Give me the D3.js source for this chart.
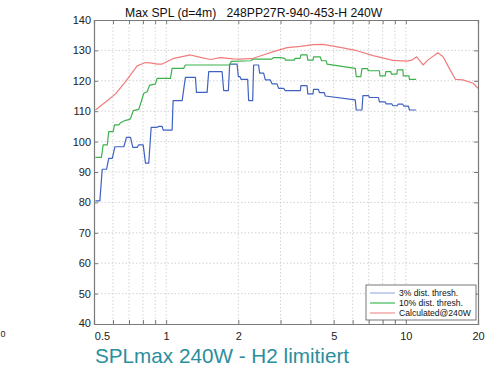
<!DOCTYPE html>
<html>
<head>
<meta charset="utf-8">
<script src="https://cdn.jsdelivr.net/npm/d3@7"></script>
<style>
  html, body { margin: 0; padding: 0; background: #fff; }
  svg { display: block; font-family: "Liberation Sans", Arial, Helvetica, sans-serif; }
</style>
</head>
<body>
<svg id="chart" width="504" height="369"></svg>
<script>
// ---- data (frequency in kHz, SPL in dB) ----
const xMajorTicks = [0.5, 1, 2, 5, 10, 20];
const xMinorTicks = [0.6, 0.7, 0.8, 0.9, 3, 4, 6, 7, 8, 9];
const yTicks = [40, 50, 60, 70, 80, 90, 100, 110, 120, 130, 140];

const blueFreq = [0.507,0.529,0.541,0.564,0.576,0.596,0.611,0.666,0.683,0.710,0.726,0.757,0.767,0.802,0.820,0.846,0.866,0.917,0.932,0.962,0.972,1.059,1.069,1.166,1.203,1.325,1.338,1.482,1.505,1.711,1.738,1.818,1.841,1.976,2.001,2.03,2.053,2.188,2.209,2.296,2.317,2.431,2.455,2.551,2.593,2.720,2.765,2.901,2.946,3.09,3.14,3.63,3.65,3.87,3.90,4.10,4.12,4.32,4.36,4.57,4.61,6.15,6.21,6.56,6.62,6.99,7.05,7.69,7.76,8.20,8.28,8.74,8.83,9.20,9.28,9.70,9.80,10.25,10.35,11.04];
const blueSPL  = [80.5,80.5,90.9,90.9,94.5,94.5,98.3,98.3,101.4,101.4,98.1,98.1,98.9,98.9,92.9,92.9,104.7,104.7,105.0,105.0,103.8,103.8,113.5,113.5,121.1,121.1,116.2,116.2,123.0,123.0,116.8,116.8,125.5,125.5,121.4,121.4,120.5,120.5,113.5,113.5,125.2,125.2,122.5,122.5,120.3,120.3,119.0,119.0,117.5,117.5,116.8,116.8,118.4,118.4,115.7,115.7,117.2,117.2,116.1,116.1,115.0,113.7,110.4,110.4,115.1,115.1,114.5,114.5,113.1,113.1,112.4,112.4,111.8,111.8,112.3,112.3,111.7,111.7,110.4,110.4];

const greenFreq = [0.507,0.537,0.546,0.568,0.576,0.601,0.609,0.635,0.645,0.677,0.70,0.71,0.729,0.769,0.807,0.833,0.854,0.902,0.917,1.042,1.059,1.184,1.203,1.84,1.87,2.25,2.30,2.75,2.80,3.00,3.12,3.15,3.42,3.45,3.62,3.65,3.87,3.90,4.10,4.12,4.39,4.45,4.65,4.69,6.15,6.21,6.49,6.56,6.93,6.97,7.76,7.80,8.20,8.25,8.66,8.70,9.17,9.22,9.72,9.76,10.30,10.35,11.04];
const greenSPL  = [94.8,94.8,98.9,98.9,103.3,103.3,105.5,105.5,106.2,107.0,107.2,107.6,110.2,110.6,115.9,116.4,118.6,118.9,120.8,120.8,124.1,124.1,125.2,125.2,126.4,126.6,127.1,127.1,127.6,127.6,127.4,126.8,126.8,127.4,127.4,128.5,128.5,126.8,126.8,127.9,127.9,126.6,126.6,125.5,124.1,121.4,121.4,124.0,124.0,123.3,123.3,121.6,121.6,123.0,123.0,122.2,122.2,123.6,123.6,121.6,121.6,120.5,120.5];

const redFreq = [0.507,0.559,0.615,0.677,0.757,0.820,0.86,0.917,0.962,1.076,1.263,1.39,1.53,1.683,1.906,2.04,2.31,2.54,2.80,3.20,3.63,4.11,4.52,4.84,5.32,6.25,7.30,8.84,10.08,10.58,11.10,11.80,12.35,13.60,14.30,15.30,16.10,17.30,19.10,20.0];
const redSPL  = [110.4,113.0,115.7,119.7,124.9,126.0,125.9,125.5,125.5,127.4,128.5,127.7,127.0,127.6,127.2,127.1,127.4,128.5,129.6,130.9,131.3,131.9,132.0,131.6,131.0,129.9,128.3,126.7,126.5,126.8,127.9,125.2,126.8,129.2,127.9,123.6,120.5,120.3,119.2,117.5];

const seriesNames = ["3% dist. thresh.", "10% dist. thresh.", "Calculated@240W"];
const titleLeft = "Max SPL (d=4m)";
const titleRight = "248PP27R-940-453-H 240W";
const caption = "SPLmax 240W - H2 limitiert";

// ---- layout ----
const svg = d3.select("#chart");
const L = 94, R = 478, T = 20, B = 324;
const x = d3.scaleLog().domain([0.5, 20]).range([L, R]);
const y = d3.scaleLinear().domain([40, 140]).range([B, T]);

const axisColor = "#7a7a7a";
const gridColor = "#c8c8c8";
const allX = xMajorTicks.concat(xMinorTicks).sort((a,b)=>a-b);

// grid
const grid = svg.append("g");
grid.selectAll("line.vx").data(allX.filter(d => d > 0.5 && d < 20)).join("line")
  .attr("x1", d => x(d)).attr("x2", d => x(d)).attr("y1", T).attr("y2", B)
  .attr("stroke", gridColor).attr("stroke-width", 0.8).attr("stroke-dasharray", "1.5,2");
grid.selectAll("line.hy").data(yTicks.filter(d => d > 40 && d < 140)).join("line")
  .attr("x1", L).attr("x2", R).attr("y1", d => y(d)).attr("y2", d => y(d))
  .attr("stroke", gridColor).attr("stroke-width", 0.8).attr("stroke-dasharray", "1.5,2");

// lines
const line = d3.line().x(d => x(d[0])).y(d => y(d[1]));
const series = [
  {f: blueFreq, v: blueSPL, color: "#3f62c2", legend: "#a9b8e6"},
  {f: greenFreq, v: greenSPL, color: "#3bb24c", legend: "#4cc062"},
  {f: redFreq, v: redSPL, color: "#f27c7c", legend: "#f49a9a"}
];
svg.append("g").selectAll("path").data(series).join("path")
  .attr("d", s => line(s.f.map((f, i) => [f, s.v[i]])))
  .attr("fill", "none").attr("stroke", s => s.color).attr("stroke-width", 1.2)
  .attr("stroke-linejoin", "round");

// axes
const fmtX = d => xMajorTicks.includes(d) ? String(d) : "";
const gB = svg.append("g").attr("transform", `translate(0,${B})`)
  .call(d3.axisBottom(x).tickValues(allX).tickFormat(fmtX).tickSize(-4).tickPadding(8));
const gT = svg.append("g").attr("transform", `translate(0,${T})`)
  .call(d3.axisTop(x).tickValues(allX).tickFormat("").tickSize(-4));
const gL = svg.append("g").attr("transform", `translate(${L},0)`)
  .call(d3.axisLeft(y).tickValues(yTicks).tickSize(-4).tickPadding(3));
const gR = svg.append("g").attr("transform", `translate(${R},0)`)
  .call(d3.axisRight(y).tickValues(yTicks).tickFormat("").tickSize(-4));
[gB, gT, gL, gR].forEach(g => {
  g.select(".domain").attr("stroke", axisColor).attr("stroke-width", 1.2);
  g.selectAll(".tick line").attr("stroke", axisColor).attr("stroke-width", 1);
  g.selectAll(".tick text").attr("fill", "#222").attr("font-size", 11)
    .attr("font-family", "Liberation Sans, Arial, sans-serif");
});
gB.selectAll(".tick text").attr("dy", "0.71em");
gB.selectAll(".tick").filter(d => d === 0.5).select("text").attr("dx", 8);
gL.selectAll(".tick").filter(d => d === 40).select("text").attr("dy", "0.2em");

// title
svg.append("text").attr("x", 125).attr("y", 17).attr("font-size", 12.2).attr("fill", "#111").text(titleLeft);
svg.append("text").attr("x", 226.5).attr("y", 17).attr("font-size", 12.2).attr("fill", "#111").text(titleRight);

// legend
const lg = svg.append("g");
lg.append("rect").attr("x", 366).attr("y", 285).attr("width", 110).attr("height", 35)
  .attr("fill", "#fff").attr("stroke", "#555").attr("stroke-width", 0.8);
const items = lg.selectAll("g.item").data(series).join("g")
  .attr("transform", (d, i) => `translate(0,${293 + i * 10})`);
items.append("line").attr("x1", 370).attr("x2", 395).attr("y1", 0).attr("y2", 0)
  .attr("stroke", d => d.legend).attr("stroke-width", 1.3);
items.append("text").attr("x", 399).attr("y", 3).attr("font-size", 8.6).attr("fill", "#111")
  .text((d, i) => seriesNames[i]);

// caption
svg.append("text").attr("x", 95).attr("y", 363).attr("font-size", 20.7)
  .attr("fill", "#2b8e9c").text(caption);

// small stray label at far left (kept fully visible)
svg.append("text").attr("x", 0.5).attr("y", 337).attr("text-anchor", "start")
  .attr("font-size", 9).attr("fill", "#222").text("0");
</script>
</body>
</html>
